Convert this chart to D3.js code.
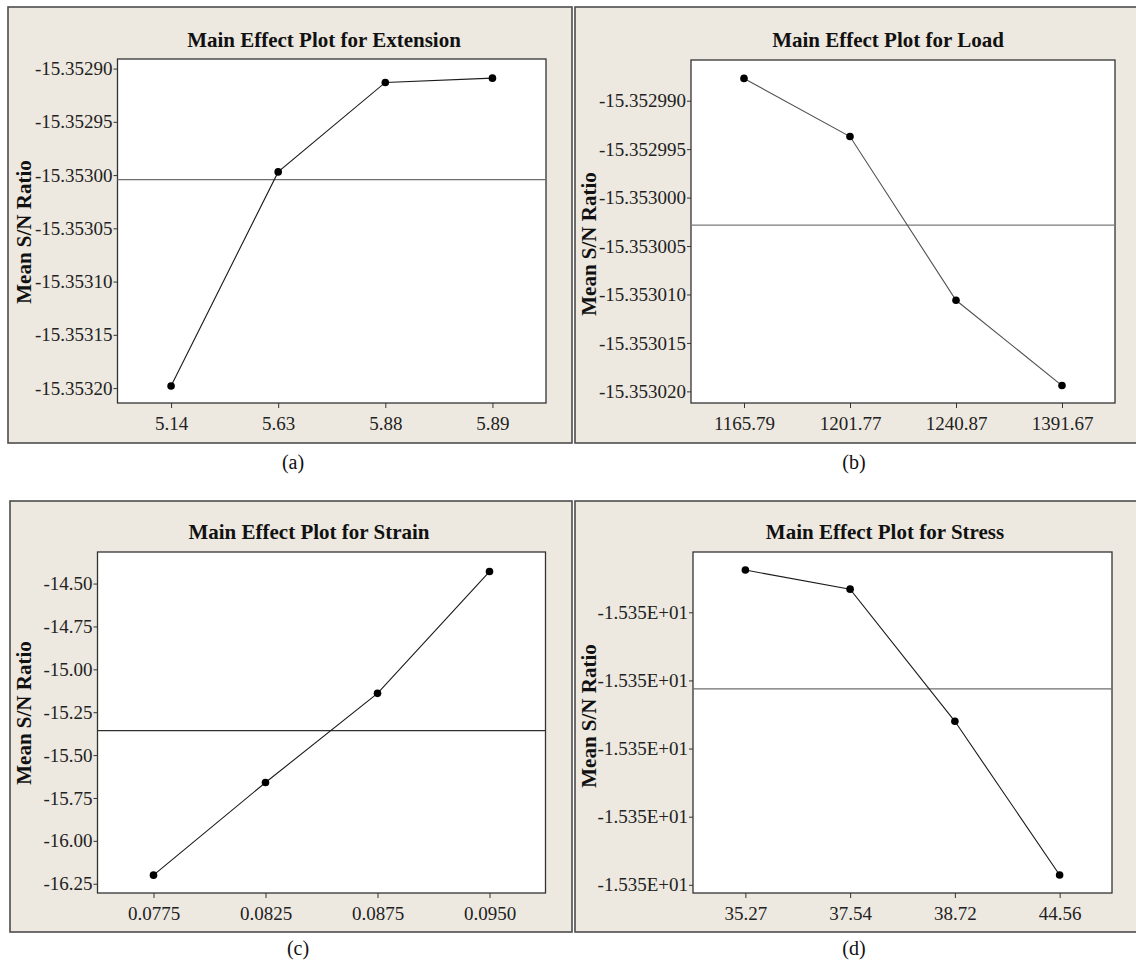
<!DOCTYPE html>
<html>
<head>
<meta charset="utf-8">
<script src="https://cdn.jsdelivr.net/npm/d3@7"></script>
<style>
  html, body { margin: 0; padding: 0; background: #ffffff; }
  svg { display: block; }
</style>
</head>
<body>
<svg id="fig" width="1136" height="963"></svg>
<script>
// Mean S/N ratio for each level of the four factors
const extensionLevels = ["5.14", "5.63", "5.88", "5.89"];
const extensionSN = [-15.353198, -15.352997, -15.352913, -15.352909];
const extensionTicks = [-15.35290, -15.35295, -15.35300, -15.35305, -15.35310, -15.35315, -15.35320];
const extensionRange = [-15.353214, -15.352891];

const loadLevels = ["1165.79", "1201.77", "1240.87", "1391.67"];
const loadSN = [-15.3529877, -15.3529937, -15.3530106, -15.3530194];
const loadTicks = [-15.352990, -15.352995, -15.353000, -15.353005, -15.353010, -15.353015, -15.353020];
const loadRange = [-15.3530212, -15.3529858];

const strainLevels = ["0.0775", "0.0825", "0.0875", "0.0950"];
const strainSN = [-16.20, -15.66, -15.14, -14.43];
const strainTicks = [-14.50, -14.75, -15.00, -15.25, -15.50, -15.75, -16.00, -16.25];
const strainRange = [-16.304, -14.316];

const stressLevels = ["35.27", "37.54", "38.72", "44.56"];
const stressSN = [-15.3529476, -15.3529532, -15.3529920, -15.3530371];
const stressTicks = [-15.35296, -15.35298, -15.35300, -15.35302, -15.35304];
const stressRange = [-15.3530424, -15.3529423];

const titles = ["Main Effect Plot for Extension", "Main Effect Plot for Load",
                "Main Effect Plot for Strain", "Main Effect Plot for Stress"];
const captions = ["(a)", "(b)", "(c)", "(d)"];
const yTitle = "Mean S/N Ratio";

// Tick label formats (plain hyphen for the sign)
const fixed = d => v => v.toFixed(d);
const sciE = v => {
  const [m, e] = v.toExponential(3).split("e");
  const n = +e;
  return m + "E" + (n < 0 ? "-" : "+") + String(Math.abs(n)).padStart(2, "0");
};

const SERIF = "'Liberation Serif', 'Times New Roman', Times, serif";
const svg = d3.select("#fig");

const panels = [
  { levels: extensionLevels, values: extensionSN, ticks: extensionTicks, range: extensionRange, fmt: fixed(5),
    frame: [8, 7, 572, 443], plot: [117.5, 59, 546, 403], titleX: 324, titleY: 40, yTitleX: 24, yTitleY: 232,
    capX: 293, capY: 462, lineColor: "#1a1a1a", meanColor: "#6e6e6e" },
  { levels: loadLevels, values: loadSN, ticks: loadTicks, range: loadRange, fmt: fixed(6),
    frame: [575, 7, 1142, 443], plot: [691, 60, 1115, 403], titleX: 888, titleY: 40, yTitleX: 589, yTitleY: 244,
    capX: 854, capY: 462, lineColor: "#505050", meanColor: "#7a7a7a" },
  { levels: strainLevels, values: strainSN, ticks: strainTicks, range: strainRange, fmt: fixed(2),
    frame: [10, 501, 572, 932], plot: [97.5, 552, 545.5, 893], titleX: 309, titleY: 532, yTitleX: 24, yTitleY: 713,
    capX: 298, capY: 948, lineColor: "#1a1a1a", meanColor: "#303030" },
  { levels: stressLevels, values: stressSN, ticks: stressTicks, range: stressRange, fmt: sciE,
    frame: [575, 501, 1142, 932], plot: [693, 552, 1112, 893], titleX: 885, titleY: 532, yTitleX: 589, yTitleY: 716,
    capX: 854, capY: 948, lineColor: "#1a1a1a", meanColor: "#6e6e6e" }
];

panels.forEach((p, i) => {
  const g = svg.append("g").attr("class", "panel");
  const [fx0, fy0, fx1, fy1] = p.frame;
  const [pl, pt, pr, pb] = p.plot;

  // panel background and frame
  g.append("rect")
    .attr("x", fx0).attr("y", fy0)
    .attr("width", fx1 - fx0).attr("height", fy1 - fy0)
    .attr("fill", "#ede9e0").attr("stroke", "#4d4d4d").attr("stroke-width", 1.6);

  // title
  g.append("text")
    .attr("x", p.titleX).attr("y", p.titleY)
    .attr("text-anchor", "middle").attr("dominant-baseline", "central")
    .attr("font-family", SERIF).attr("font-weight", "bold").attr("font-size", 21)
    .attr("fill", "#111").text(titles[i]);

  const x = d3.scalePoint().domain(p.levels).range([pl, pr]).padding(0.5);
  const y = d3.scaleLinear().domain(p.range).range([pb, pt]);

  // plotting region
  g.append("rect")
    .attr("x", pl).attr("y", pt).attr("width", pr - pl).attr("height", pb - pt)
    .attr("fill", "#ffffff").attr("stroke", "#333").attr("stroke-width", 1.3);

  // grand mean reference line
  const grand = d3.mean(p.values);
  g.append("line")
    .attr("x1", pl).attr("x2", pr).attr("y1", y(grand)).attr("y2", y(grand))
    .attr("stroke", p.meanColor).attr("stroke-width", 1.3);

  const pts = p.levels.map((lv, k) => ({ lv, v: p.values[k] }));

  // connecting line
  g.append("path")
    .datum(pts)
    .attr("fill", "none").attr("stroke", p.lineColor).attr("stroke-width", 1.1)
    .attr("d", d3.line().x(d => x(d.lv)).y(d => y(d.v)));

  // level means
  g.selectAll("circle.pt").data(pts).join("circle")
    .attr("class", "pt")
    .attr("cx", d => x(d.lv)).attr("cy", d => y(d.v)).attr("r", 3.8)
    .attr("fill", "#000");

  // axes
  const yAxis = g.append("g").attr("transform", `translate(${pl},0)`)
    .call(d3.axisLeft(y).tickValues(p.ticks).tickFormat(p.fmt).tickSize(4).tickSizeOuter(0).tickPadding(1));
  const xAxis = g.append("g").attr("transform", `translate(0,${pb})`)
    .call(d3.axisBottom(x).tickSize(5).tickSizeOuter(0).tickPadding(9));
  [yAxis, xAxis].forEach(ax => {
    ax.select(".domain").remove();
    ax.selectAll(".tick line").attr("stroke", "#333").attr("stroke-width", 1);
    ax.selectAll(".tick text")
      .attr("font-family", SERIF).attr("font-size", 19).attr("fill", "#222");
  });

  // y axis title
  g.append("text")
    .attr("transform", `translate(${p.yTitleX},${p.yTitleY}) rotate(-90)`)
    .attr("text-anchor", "middle").attr("dominant-baseline", "central")
    .attr("font-family", SERIF).attr("font-weight", "bold").attr("font-size", 21)
    .attr("fill", "#111").text(yTitle);

  // sub-figure caption
  svg.append("text")
    .attr("x", p.capX).attr("y", p.capY)
    .attr("text-anchor", "middle").attr("dominant-baseline", "central")
    .attr("font-family", SERIF).attr("font-size", 20).attr("fill", "#111")
    .text(captions[i]);
});
</script>
</body>
</html>
